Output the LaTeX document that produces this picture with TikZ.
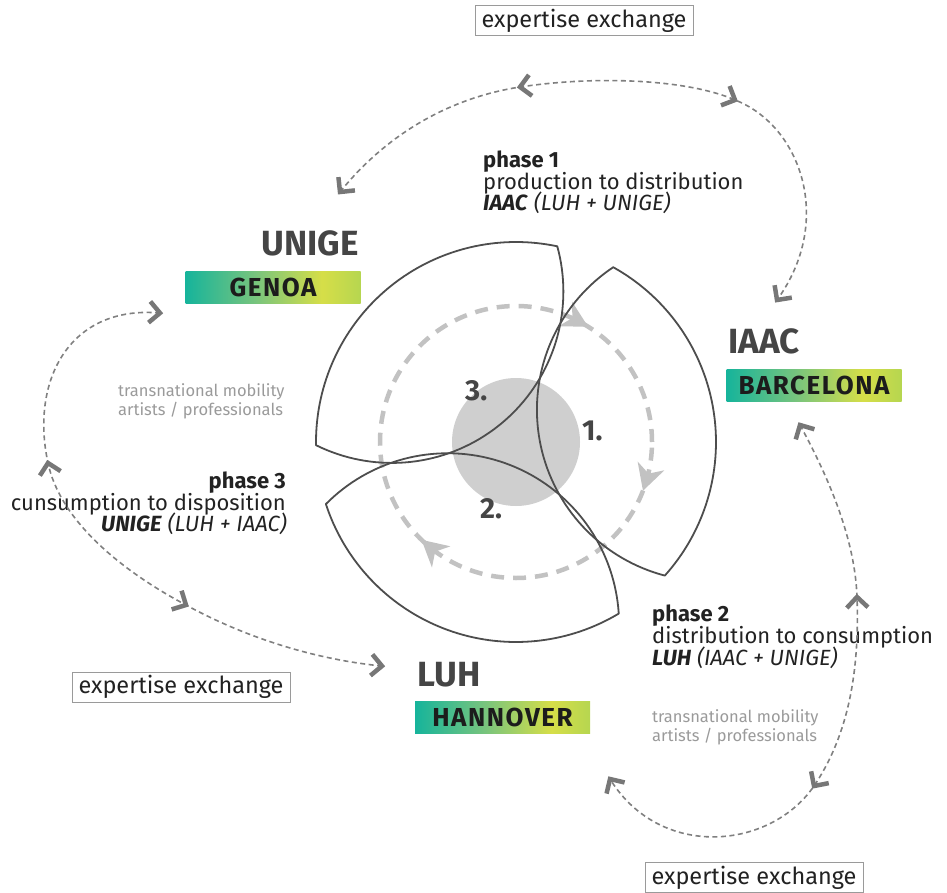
\documentclass[tikz,border=0pt]{standalone}
\usepackage{fontspec}
\setmainfont{Fira Sans}
\usetikzlibrary{arrows.meta,calc}
\definecolor{petalc}{HTML}{4D4D4D}
\definecolor{ringc}{HTML}{C2C2C2}
\definecolor{hubc}{HTML}{CFCFCF}
\definecolor{dashc}{HTML}{808080}
\definecolor{chevc}{HTML}{777777}
\definecolor{headc}{HTML}{454545}
\definecolor{txtc}{HTML}{222222}
\definecolor{mobc}{HTML}{9A9A9A}
\definecolor{boxline}{HTML}{9A9A9A}
\definecolor{boxtxt}{HTML}{1C1C1C}
\definecolor{gA}{RGB}{22,180,155}
\definecolor{gB}{RGB}{120,196,125}
\definecolor{gC}{RGB}{214,222,72}
\definecolor{gD}{RGB}{182,214,80}
\pgfdeclarehorizontalshading{citygrad}{100bp}{color(0bp)=(gA); color(25bp)=(gA); color(45bp)=(gB); color(64bp)=(gC); color(75bp)=(gD); color(100bp)=(gD)}
\newcommand\chevat[2]{\draw[chevline] ($(#1)+(#2+135:15)$) -- (#1) -- ($(#1)+(#2+225:15)$);}
\begin{document}
\begin{tikzpicture}[x=1pt,y=-1pt,
  petal/.style={draw=petalc, line width=1.8pt, line join=round},
  ringdash/.style={draw=ringc, line width=4.5pt, dash pattern=on 13pt off 9pt},
  ringtip/.style={draw=ringc, fill=ringc, line width=1.5pt, -{Stealth[length=26pt,width=28pt,inset=8pt]}},
  xchg/.style={draw=dashc, line width=1.6pt, dash pattern=on 5pt off 3.5pt},
  chevline/.style={draw=chevc, line width=4.5pt, line join=miter, line cap=butt},
  head/.style={font=\bfseries\fontsize{35}{35}\selectfont, text=headc, inner sep=0},
  citybox/.style={shading=citygrad, minimum width=175pt, minimum height=32pt, inner sep=0, text=boxtxt, font=\bfseries\fontsize{26}{26}\selectfont\addfontfeature{LetterSpace=6}},
  phase/.style={font=\fontsize{22}{24}\selectfont, text=txtc, inner sep=0},
  mob/.style={font=\fontsize{16.5}{18}\selectfont, text=mobc, inner sep=0},
  numlbl/.style={font=\bfseries\fontsize{29}{29}\selectfont, text=headc, inner sep=0},
  xbox/.style={draw=boxline, line width=1pt, minimum width=218pt, minimum height=30pt, inner sep=0, text=txtc, font=\fontsize{23.5}{23.5}\selectfont}
]
\useasboundingbox (0,0) rectangle (947,893);

% centre hub and cycle ring
\coordinate (O) at (516,442);
\fill[hubc] (O) circle[radius=64pt];
\draw[ringdash] (O) circle[radius=136pt];
\foreach \a in {-58,21,134} {
  \draw[ringtip] ($(O)+(\a-6:136)$) -- ($(O)+(\a:136)$);
}

% three petals (lens = big circle n small circle)
\foreach \t in {-9.5,-129.5,110.5} {
  \pgfmathsetmacro\ta{\t-51.4}
  \pgfmathsetmacro\tb{\t+51.4}
  \pgfmathsetmacro\tc{\t+114.2}
  \pgfmathsetmacro\td{\t+245.8}
  \pgfmathsetmacro\px{516+195*cos(\t)}
  \pgfmathsetmacro\py{442+195*sin(\t)}
  \draw[petal] plot[domain=\ta:\tb, samples=70] ({516+200*cos(\x)},{442+200*sin(\x)})
    -- plot[domain=\tc:\td, samples=70] ({\px+171.4*cos(\x)},{\py+171.4*sin(\x)}) -- cycle;
}

% numbers
\node[numlbl, anchor=base west] (n3) at (465,400) {3.};
\node[numlbl, anchor=base west] (n1) at (582,440) {1.};
\node[numlbl, anchor=base west] (n2) at (480,518) {2.};

% partners
\node[head, anchor=base east] (unige) at (359,256) {UNIGE};
\node[citybox] (genoa) at (273,287) {GENOA};
\node[head, anchor=base west] (iaac) at (728,353) {IAAC};
\node[citybox] (barcelona) at (814,385) {BARCELONA};
\node[head, anchor=base west] (luh) at (417,686) {LUH};
\node[citybox] (hannover) at (502.5,717) {HANNOVER};

% phases
\node[phase, anchor=base west] (p1a) at (483,168) {\textbf{phase 1}};
\node[phase, anchor=base west] (p1b) at (483,190) {production to distribution};
\node[phase, anchor=base west] (p1c) at (483,211) {\textbf{\textit{IAAC}}\textit{ (LUH + UNIGE)}};
\node[phase, anchor=base east] (p3a) at (286,488) {\textbf{phase 3}};
\node[phase, anchor=base east] (p3b) at (286,510) {cunsumption to disposition};
\node[phase, anchor=base east] (p3c) at (287,531) {\textbf{\textit{UNIGE}}\textit{ (LUH + IAAC)}};
\node[phase, anchor=base west] (p2a) at (652,621) {\textbf{phase 2}};
\node[phase, anchor=base west] (p2b) at (652,643) {distribution to consumption};
\node[phase, anchor=base west] (p2c) at (652,665) {\textbf{\textit{LUH}}\textit{ (IAAC + UNIGE)}};

% mobility notes
\node[mob, anchor=base west] (m1a) at (118,396) {transnational mobility};
\node[mob, anchor=base west] (m1b) at (118,415) {artists / professionals};
\node[mob, anchor=base west] (m2a) at (652,722) {transnational mobility};
\node[mob, anchor=base west] (m2b) at (652,741) {artists / professionals};

% expertise exchange boxes
\node[xbox] (ex1) at (584,21) {expertise exchange};
\node[xbox] (ex2) at (181,687) {expertise exchange};
\node[xbox] (ex3) at (754,877.5) {expertise exchange};

% exchange arrows: top
\coordinate (tS) at (340,192);
\coordinate (tJ1) at (520,87);
\coordinate (tJ2) at (735,100);
\coordinate (tE) at (777,300);
\draw[xchg] (tS) .. controls (390,130) and (455,97) .. (tJ1)
  .. controls (600,75) and (690,80) .. (tJ2)
  .. controls (800,125) and (835,220) .. (tE);
\chevat{tS}{128.9}
\chevat{tJ1}{171.3}
\chevat{tJ2}{24}
\chevat{tE}{125.9}

% exchange arrows: left
\coordinate (lS) at (160,313);
\coordinate (lJ1) at (48,463);
\coordinate (lJ2) at (186,605);
\coordinate (lE) at (382,666);
\draw[xchg] (lS) .. controls (70,305) and (30,380) .. (lJ1)
  .. controls (60,520) and (120,570) .. (lJ2)
  .. controls (250,640) and (320,660) .. (lE);
\chevat{lS}{5.1}
\chevat{lJ1}{-102.2}
\chevat{lJ2}{27.9}
\chevat{lE}{5.5}

% exchange arrows: right
\coordinate (rS) at (800,425);
\coordinate (rJ1) at (857,597);
\coordinate (rJ2) at (814,786);
\coordinate (rE) at (610,779);
\draw[xchg] (rS) .. controls (830,480) and (855,540) .. (rJ1)
  .. controls (860,680) and (845,740) .. (rJ2)
  .. controls (770,850) and (660,860) .. (rE);
\chevat{rS}{-118.6}
\chevat{rJ1}{-92}
\chevat{rJ2}{124}
\chevat{rE}{-121.7}
\end{tikzpicture}
\end{document}
